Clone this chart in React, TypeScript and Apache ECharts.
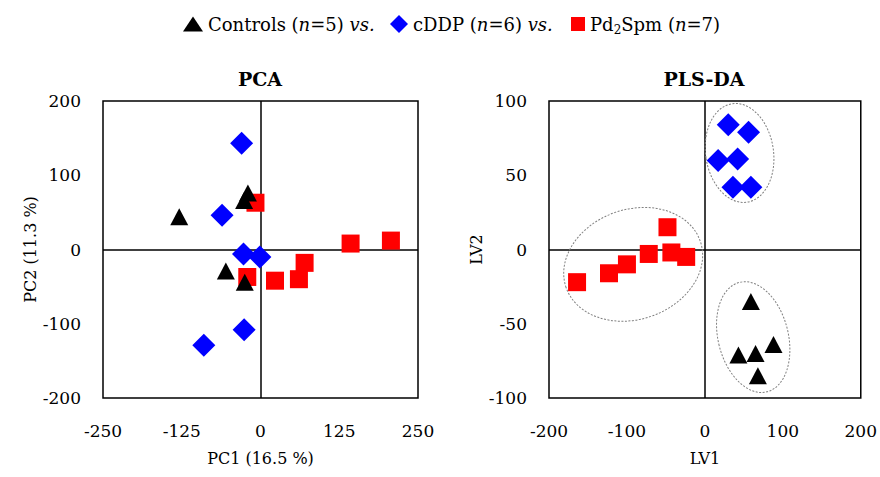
import React, { useEffect, useRef } from "react";
import * as echarts from "echarts";

// PCA scores [PC1, PC2]
const pcaControls = [[-129, 44], [-26, 66], [-20, 76], [-55, -29], [-25, -44]];
const pcaCDDP = [[-30, 143], [-61, 46], [-27, -6], [-1, -10], [-26, -108], [-90, -129]];
const pcaPd2Spm = [[-8, 63], [143, 8], [207, 12], [70, -18], [-21, -37], [23, -42], [61, -40]];

// PLS-DA scores [LV1, LV2]
const plsControls = [[59, -35], [43, -71], [65, -70], [88, -64], [68, -85]];
const plsCDDP = [[30, 84], [56, 79], [17, 60], [42, 61], [36, 42], [59, 42]];
const plsPd2Spm = [[-48, 15], [-43, -2], [-24, -5], [-72, -3], [-100, -10], [-123, -16], [-164, -22]];

// group ellipses [centerLV1, centerLV2, semiAxisLV1, semiAxisLV2, rotationDeg]
const plsEllipses = [
  [-92, -10, 91, 37, 19],
  [62, -59, 45, 38, 14],
  [44.5, 65, 43.5, 33.5, 8.6],
];

const pcaXTicks = { min: -250, max: 250, interval: 125 };
const pcaYTicks = { min: -200, max: 200, interval: 100 };
const plsXTicks = { min: -200, max: 200, interval: 100 };
const plsYTicks = { min: -100, max: 100, interval: 50 };

const FONT = "DejaVu Serif";

export default function App() {
  const ref = useRef<HTMLDivElement>(null);

  useEffect(() => {
    if (!ref.current) return;
    const chart = echarts.init(ref.current, null, { renderer: "svg" });

    const tick = { fontFamily: FONT, fontSize: 17, color: "#000" };
    const nameStyle = { fontFamily: FONT, fontSize: 16, color: "#000" };
    const axisCommon = {
      type: "value",
      axisLine: { show: false },
      axisTick: { show: false },
      splitLine: { show: false },
      nameLocation: "middle",
      nameTextStyle: nameStyle,
    };

    const rich = {
      a: { fontFamily: FONT, fontSize: 18, color: "#000", lineHeight: 24, verticalAlign: "middle" },
      i: { fontFamily: FONT, fontSize: 18, color: "#000", fontStyle: "italic", lineHeight: 24, verticalAlign: "middle" },
      s: { fontFamily: FONT, fontSize: 12, color: "#000", lineHeight: 10, verticalAlign: "bottom" },
    };
    const legendBase = {
      top: 15,
      padding: 0,
      orient: "horizontal",
      selectedMode: false,
      textStyle: { fontFamily: FONT, fontSize: 18, color: "#000", rich },
    };

    const crossLine = (xi: number) => ({
      type: "scatter",
      xAxisIndex: xi,
      yAxisIndex: xi,
      data: [],
      silent: true,
      markLine: {
        z: 1,
        silent: true,
        symbol: "none",
        label: { show: false },
        lineStyle: { color: "#000", width: 1.5, type: "solid" },
        emphasis: { disabled: true },
        data: [{ xAxis: 0 }, { yAxis: 0 }],
      },
    });

    const triangle = { symbol: "triangle", symbolSize: [18, 17], itemStyle: { color: "#000", opacity: 1 } };
    const diamond = { symbol: "diamond", symbolSize: [23, 23], itemStyle: { color: "#0000FF", opacity: 1 } };
    const square = { symbol: "rect", symbolSize: [18, 18], itemStyle: { color: "#FF0000", opacity: 1 } };

    chart.setOption({
      animation: false,
      backgroundColor: "#fff",
      graphic: [
        {
          type: "text",
          x: 260,
          y: 79,
          style: { text: "PCA", fontFamily: FONT, fontSize: 19, fontWeight: "bold", fill: "#000", textAlign: "center", textVerticalAlign: "middle" },
        },
        {
          type: "text",
          x: 704,
          y: 79,
          style: { text: "PLS-DA", fontFamily: FONT, fontSize: 19, fontWeight: "bold", fill: "#000", textAlign: "center", textVerticalAlign: "middle" },
        },
      ],
      legend: [
        {
          ...legendBase,
          left: 183,
          itemWidth: 20,
          itemHeight: 15,
          data: [{ name: "Controls", icon: "triangle" }],
          formatter: () => "{a|Controls (}{i|n}{a|=5) }{i|vs.}",
        },
        {
          ...legendBase,
          left: 390,
          itemWidth: 18,
          itemHeight: 18,
          data: [{ name: "cDDP", icon: "diamond" }],
          formatter: () => "{a|cDDP (}{i|n}{a|=6) }{i|vs.}",
        },
        {
          ...legendBase,
          left: 571,
          itemWidth: 14,
          itemHeight: 14,
          data: [{ name: "Pd2Spm", icon: "rect" }],
          formatter: () => "{a|Pd}{s|2}{a|Spm (}{i|n}{a|=7)}",
        },
      ],
      grid: [
        { left: 103, top: 101, width: 315, height: 297, show: true, borderColor: "#000", borderWidth: 1.5, backgroundColor: "transparent" },
        { left: 549, top: 101, width: 313, height: 297, show: true, borderColor: "#000", borderWidth: 1.5, backgroundColor: "transparent" },
      ],
      xAxis: [
        { ...axisCommon, gridIndex: 0, ...pcaXTicks, name: "PC1 (16.5 %)", nameGap: 52, axisLabel: { ...tick, margin: 24 } },
        { ...axisCommon, gridIndex: 1, ...plsXTicks, name: "LV1", nameGap: 52, axisLabel: { ...tick, margin: 24 } },
      ],
      yAxis: [
        { ...axisCommon, gridIndex: 0, ...pcaYTicks, name: "PC2 (11.3 %)", nameGap: 58, axisLabel: { ...tick, margin: 22 } },
        { ...axisCommon, gridIndex: 1, ...plsYTicks, name: "LV2", nameGap: 64, axisLabel: { ...tick, margin: 22 } },
      ],
      series: [
        crossLine(0),
        crossLine(1),
        {
          type: "custom",
          name: "ellipses",
          xAxisIndex: 1,
          yAxisIndex: 1,
          silent: true,
          z: 1,
          data: plsEllipses,
          renderItem: (params: any, api: any) => {
            const c = api.coord([api.value(0), api.value(1)]);
            const s = api.size([api.value(2), api.value(3)]);
            return {
              type: "ellipse",
              x: c[0],
              y: c[1],
              rotation: (api.value(4) * Math.PI) / 180,
              shape: { cx: 0, cy: 0, rx: s[0], ry: s[1] },
              style: { fill: "none", stroke: "#808080", lineWidth: 1, lineDash: [2, 1.5] },
            };
          },
        },
        { type: "scatter", name: "cDDP", xAxisIndex: 0, yAxisIndex: 0, z: 3, data: pcaCDDP, ...diamond },
        { type: "scatter", name: "Pd2Spm", xAxisIndex: 0, yAxisIndex: 0, z: 3, data: pcaPd2Spm, ...square },
        { type: "scatter", name: "Controls", xAxisIndex: 0, yAxisIndex: 0, z: 3, data: pcaControls, ...triangle },
        { type: "scatter", name: "cDDP", xAxisIndex: 1, yAxisIndex: 1, z: 3, data: plsCDDP, ...diamond },
        { type: "scatter", name: "Pd2Spm", xAxisIndex: 1, yAxisIndex: 1, z: 3, data: plsPd2Spm, ...square },
        { type: "scatter", name: "Controls", xAxisIndex: 1, yAxisIndex: 1, z: 3, data: plsControls, ...triangle },
      ],
    });

    return () => chart.dispose();
  }, []);

  return (
    <div
      ref={ref}
      style={{ position: "absolute", left: 0, top: 0, width: 880, height: 477, background: "#fff" }}
    />
  );
}
